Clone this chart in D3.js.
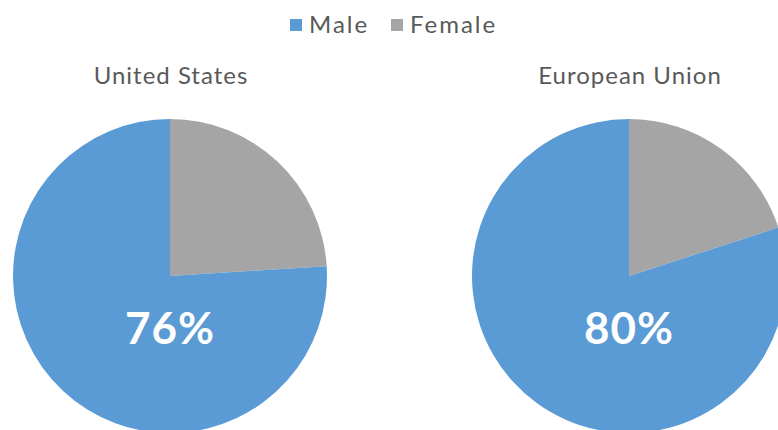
<!DOCTYPE html>
<html><head><meta charset="utf-8">
<script src="https://cdn.jsdelivr.net/npm/d3@7/dist/d3.min.js"></script>
<style>body{margin:0;background:#fff;overflow:hidden}</style>
</head><body><svg id="c" width="778" height="430"></svg>
<script>
const regions = ["United States", "European Union"];
const categories = ["Male", "Female"];
const maleShare = [76, 80];
const femaleShare = [24, 20];
const labels = ["76%", "80%"];
const colors = ["#5B9BD5", "#A5A5A5"];

const svg = d3.select("#c");
const font = "'Century Gothic', 'Lato', 'DejaVu Sans', sans-serif";
const cx = d3.scalePoint().domain(regions).range([170, 629]);
const cy = 276, r = 157;

const pie = d3.pie().sort(null).value(d => d.v);
const arc = d3.arc().innerRadius(0).outerRadius(r);

regions.forEach((reg, i) => {
  const data = [{k: "Female", v: femaleShare[i]}, {k: "Male", v: maleShare[i]}];
  const g = svg.append("g").attr("transform", `translate(${cx(reg)},${cy})`);
  g.selectAll("path").data(pie(data)).join("path")
    .attr("d", arc)
    .attr("fill", d => colors[categories.indexOf(d.data.k)]);
  g.append("text").attr("x", 0).attr("y", 68)
    .attr("text-anchor", "middle")
    .attr("font-family", font).attr("font-weight", "bold")
    .attr("font-size", 44).attr("letter-spacing", 1).attr("fill", "#ffffff")
    .text(labels[i]);
  svg.append("text").attr("x", cx(reg) + 1).attr("y", 84)
    .attr("text-anchor", "middle")
    .attr("font-family", font).attr("font-size", 24).attr("letter-spacing", 1)
    .attr("fill", "#595959").text(reg);
});

// legend
const leg = svg.append("g");
const legX = [290, 391];
categories.forEach((c, i) => {
  leg.append("rect").attr("x", legX[i]).attr("y", 19).attr("width", 12).attr("height", 12)
    .attr("fill", colors[i]);
  leg.append("text").attr("x", legX[i] + 19).attr("y", 33)
    .attr("font-family", font).attr("font-size", 24).attr("letter-spacing", 2)
    .attr("fill", "#595959").text(c);
});
</script></body></html>
